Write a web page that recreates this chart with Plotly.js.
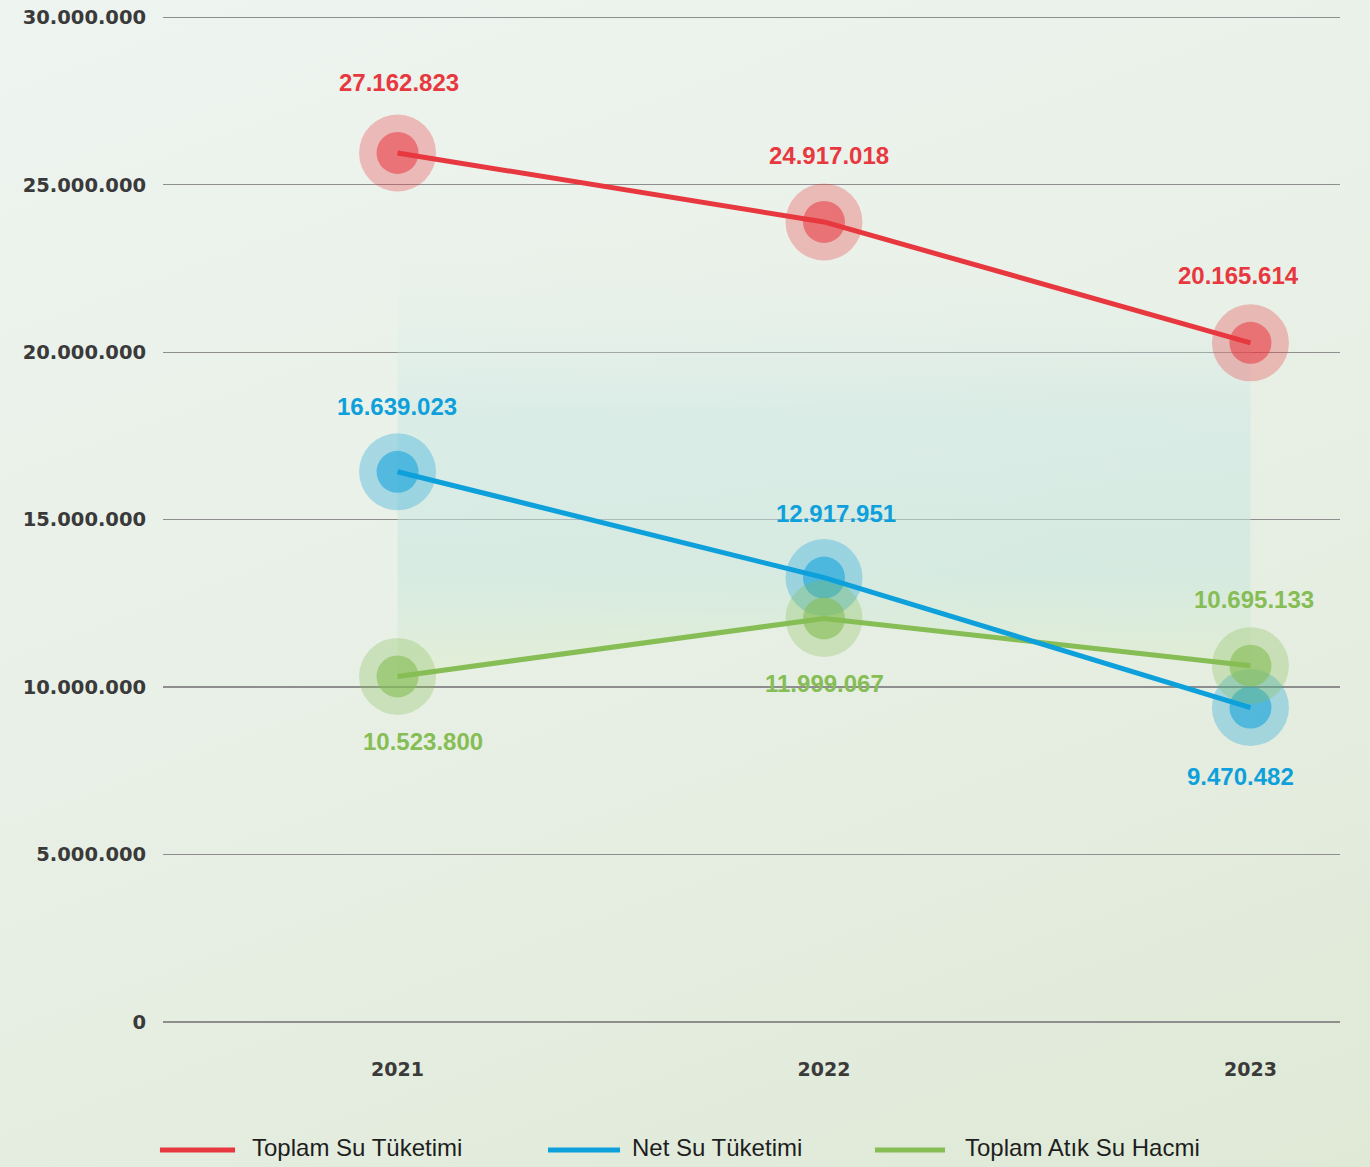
<!DOCTYPE html>
<html>
<head>
<meta charset="utf-8">
<script src="https://cdn.plot.ly/plotly-3.0.1.min.js"></script>
<style>
html,body{margin:0;padding:0;}
body{width:1370px;height:1167px;background:linear-gradient(160deg,#eef4f0 0%,#e8f0e6 50%,#dfe9d6 100%);}
#chart{width:1370px;height:1167px;}
</style>
</head>
<body>
<div id="chart"></div>
<script>
// ---- data ----
const years = ['2021', '2022', '2023'];
const seriesNames = ['Toplam Su Tüketimi', 'Net Su Tüketimi', 'Toplam Atık Su Hacmi'];
// values as positioned in the picture
const toplamSu = [25950000, 23890000, 20280000];
const netSu = [16430000, 13270000, 9390000];
const atikSu = [10320000, 12050000, 10640000];
// values as printed on the labels
const toplamSuLabels = ['27.162.823', '24.917.018', '20.165.614'];
const netSuLabels = ['16.639.023', '12.917.951', '9.470.482'];
const atikSuLabels = ['10.523.800', '11.999.067', '10.695.133'];
const yTicks = [0, 5000000, 10000000, 15000000, 20000000, 25000000, 30000000];

// ---- styles ----
const colors = ['#e8383f', '#0ea0db', '#86bd55'];
const outerCol = ['rgba(232,56,63,0.30)', 'rgba(14,160,219,0.30)', 'rgba(134,189,85,0.30)'];
const innerCol = ['rgba(232,56,63,0.55)', 'rgba(14,160,219,0.55)', 'rgba(134,189,85,0.60)'];
const labelShift = [
  [{x: 1, y: 70}, {x: 5, y: 66}, {x: -12, y: 67}],
  [{x: -1, y: 65}, {x: 12, y: 64}, {x: -10, y: -69}],
  [{x: 25, y: -65}, {x: 0, y: -65}, {x: 4, y: 66}]
];

const values = [toplamSu, netSu, atikSu];
const labels = [toplamSuLabels, netSuLabels, atikSuLabels];

const traces = [];
// shaded band between top and bottom series
traces.push({
  x: years.concat(years.slice().reverse()),
  y: toplamSu.concat(atikSu.slice().reverse()),
  type: 'scatter', mode: 'lines', fill: 'toself',
  line: {width: 0, color: 'rgba(0,0,0,0)'},
  fillcolor: 'rgba(200,230,228,0.35)',
  fillgradient: {
    type: 'vertical', start: 10000000, stop: 23500000,
    colorscale: [
      [0, 'rgba(226,238,200,0.55)'],
      [0.25, 'rgba(200,230,222,0.55)'],
      [0.6, 'rgba(200,230,228,0.45)'],
      [1, 'rgba(225,240,236,0)']
    ]
  },
  hoverinfo: 'skip', showlegend: false
});
// markers
for (let i = 0; i < 3; i++) {
  traces.push({x: years, y: values[i], type: 'scatter', mode: 'markers',
    marker: {size: 77, color: outerCol[i], line: {width: 0}}, hoverinfo: 'skip', showlegend: false});
  traces.push({x: years, y: values[i], type: 'scatter', mode: 'markers',
    marker: {size: 42, color: innerCol[i], line: {width: 0}}, hoverinfo: 'skip', showlegend: false});
}
// lines
for (let i = 2; i >= 0; i--) {
  traces.push({x: years, y: values[i], type: 'scatter', mode: 'lines', name: seriesNames[i],
    line: {color: colors[i], width: 5}, showlegend: false});
}

const annotations = [];
for (let i = 0; i < 3; i++) {
  for (let j = 0; j < 3; j++) {
    annotations.push({
      x: j, y: values[i][j], xref: 'x', yref: 'y', text: labels[i][j],
      showarrow: false, xshift: labelShift[i][j].x, yshift: labelShift[i][j].y,
      font: {family: 'Liberation Sans, Arial, sans-serif', size: 24, color: colors[i], weight: 'bold'}
    });
  }
}
// custom legend
const legX = [[-0.0026, 0.0612, 0.0739], [0.3271, 0.3883, 0.3968], [0.6049, 0.6644, 0.6797]];
const shapes = [];
for (let i = 0; i < 3; i++) {
  shapes.push({type: 'line', xref: 'paper', yref: 'paper', x0: legX[i][0], x1: legX[i][1],
    y0: -0.1272, y1: -0.1272, line: {color: colors[i], width: 5}});
  annotations.push({xref: 'paper', yref: 'paper', x: legX[i][2], y: -0.1243, xanchor: 'left', yanchor: 'middle',
    text: seriesNames[i], showarrow: false,
    font: {family: 'Liberation Sans, Arial, sans-serif', size: 24, color: '#1e1e1e'}});
}

const layout = {
  width: 1370, height: 1167,
  margin: {l: 163, r: 30, t: 16, b: 145},
  paper_bgcolor: 'rgba(0,0,0,0)', plot_bgcolor: 'rgba(0,0,0,0)',
  separators: ',.',
  showlegend: false,
  xaxis: {
    type: 'category', range: [-0.55, 2.21], showgrid: false, zeroline: false, showline: false,
    ticks: 'outside', ticklen: 30, tickcolor: 'rgba(0,0,0,0)',
    tickfont: {family: 'DejaVu Sans, sans-serif', size: 19, color: '#3a3a3a', weight: 'bold'}
  },
  yaxis: {
    range: [0, 30040000], tickvals: yTicks, tickformat: ',d',
    showgrid: true, gridcolor: '#8e8e8e', gridwidth: 1.3,
    zeroline: true, zerolinecolor: '#8e8e8e', zerolinewidth: 1.3, showline: false,
    ticks: 'outside', ticklen: 12, tickcolor: 'rgba(0,0,0,0)',
    tickfont: {family: 'DejaVu Sans, sans-serif', size: 19.5, color: '#3a3a3a', weight: 'bold'}
  },
  annotations: annotations,
  shapes: shapes
};

Plotly.newPlot('chart', traces, layout, {displayModeBar: false, staticPlot: true});
</script>
</body>
</html>
